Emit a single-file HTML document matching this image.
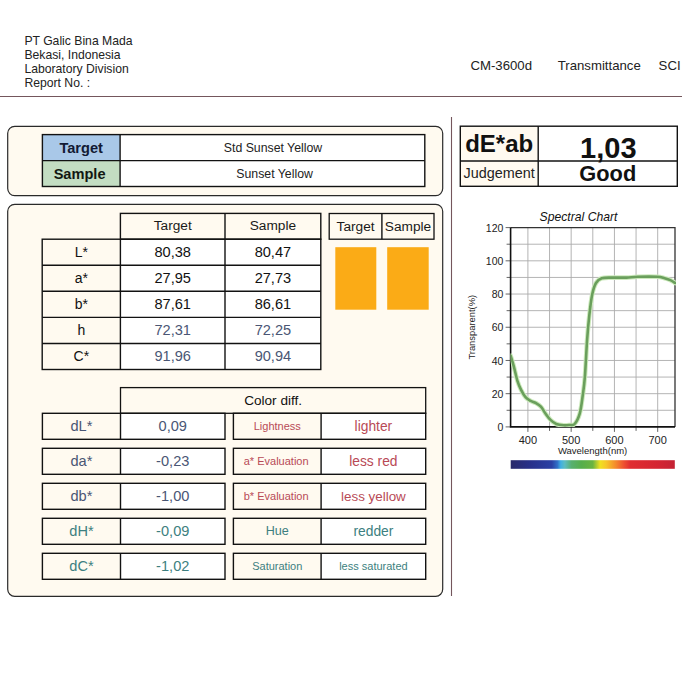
<!DOCTYPE html>
<html><head><meta charset="utf-8"><title>Color Report</title>
<style>
html,body{margin:0;padding:0;background:#fff;}
body{width:682px;height:682px;overflow:hidden;font-family:"Liberation Sans", sans-serif;}
svg{display:block;font-family:"Liberation Sans", sans-serif;}
</style></head>
<body>
<svg width="682" height="682" viewBox="0 0 682 682">
<text x="24.4" y="44.9" font-size="12.2" text-anchor="start" font-weight="normal" font-style="normal" fill="#222" >PT Galic Bina Mada</text>
<text x="24.4" y="58.9" font-size="12.2" text-anchor="start" font-weight="normal" font-style="normal" fill="#222" >Bekasi, Indonesia</text>
<text x="24.4" y="72.9" font-size="12.2" text-anchor="start" font-weight="normal" font-style="normal" fill="#222" >Laboratory Division</text>
<text x="24.4" y="86.9" font-size="12.2" text-anchor="start" font-weight="normal" font-style="normal" fill="#222" >Report No. :</text>
<text x="470.4" y="70.3" font-size="13.2" text-anchor="start" font-weight="normal" font-style="normal" fill="#222" >CM-3600d</text>
<text x="557.7" y="70.3" font-size="13.2" text-anchor="start" font-weight="normal" font-style="normal" fill="#222" >Transmittance</text>
<text x="658.6" y="70.3" font-size="13.2" text-anchor="start" font-weight="normal" font-style="normal" fill="#222" >SCI</text>
<line x1="0" y1="96.5" x2="682" y2="96.5" stroke="#74565c" stroke-width="1.1"/>
<line x1="451.5" y1="117" x2="451.5" y2="596" stroke="#74565c" stroke-width="1.1"/>
<rect x="7.7" y="126.3" width="435.0" height="69.3" fill="#fffaf0" stroke="#2a2a2a" stroke-width="1.2" rx="7"/>
<rect x="42.4" y="134.6" width="77.69999999999999" height="26.0" fill="#a9c8e8" stroke="none" stroke-width="0" rx="0"/>
<rect x="42.4" y="160.6" width="77.69999999999999" height="25.900000000000006" fill="#c3ddc2" stroke="none" stroke-width="0" rx="0"/>
<rect x="120.1" y="134.6" width="304.70000000000005" height="51.900000000000006" fill="#ffffff" stroke="none" stroke-width="0" rx="0"/>
<rect x="42.4" y="134.6" width="382.40000000000003" height="51.900000000000006" fill="none" stroke="#121212" stroke-width="1.4" rx="0"/>
<line x1="42.4" y1="160.6" x2="424.8" y2="160.6" stroke="#121212" stroke-width="1.4"/>
<line x1="120.1" y1="134.6" x2="120.1" y2="186.5" stroke="#121212" stroke-width="1.4"/>
<text x="81.2" y="152.6" font-size="14.6" text-anchor="middle" font-weight="bold" font-style="normal" fill="#121a34" >Target</text>
<text x="79.6" y="178.6" font-size="14.6" text-anchor="middle" font-weight="bold" font-style="normal" fill="#121812" >Sample</text>
<text x="273.0" y="152.0" font-size="12.3" text-anchor="middle" font-weight="normal" font-style="normal" fill="#222" >Std Sunset Yellow</text>
<text x="274.6" y="178.3" font-size="12.3" text-anchor="middle" font-weight="normal" font-style="normal" fill="#222" >Sunset Yellow</text>
<rect x="460.3" y="126.2" width="77.90000000000003" height="60.10000000000001" fill="#fffaf0" stroke="none" stroke-width="0" rx="0"/>
<rect x="538.2" y="126.2" width="139.0999999999999" height="60.10000000000001" fill="#ffffff" stroke="none" stroke-width="0" rx="0"/>
<rect x="460.3" y="126.2" width="216.99999999999994" height="60.10000000000001" fill="none" stroke="#121212" stroke-width="1.4" rx="0"/>
<line x1="460.3" y1="161.0" x2="677.3" y2="161.0" stroke="#121212" stroke-width="1.4"/>
<line x1="538.2" y1="126.2" x2="538.2" y2="186.3" stroke="#121212" stroke-width="1.4"/>
<text x="499.2" y="152.0" font-size="24" text-anchor="middle" font-weight="bold" font-style="normal" fill="#111" >dE*ab</text>
<text x="608.3" y="157.8" font-size="29" text-anchor="middle" font-weight="bold" font-style="normal" fill="#111" >1,03</text>
<text x="499.2" y="178.1" font-size="14.4" text-anchor="middle" font-weight="normal" font-style="normal" fill="#222" >Judgement</text>
<text x="607.8" y="180.6" font-size="21.8" text-anchor="middle" font-weight="bold" font-style="normal" fill="#111" >Good</text>
<rect x="7.7" y="204.3" width="435.0" height="391.99999999999994" fill="#fffaf0" stroke="#2a2a2a" stroke-width="1.2" rx="7"/>
<rect x="120.4" y="213.4" width="200.4" height="25.799999999999983" fill="#fffaf0" stroke="none" stroke-width="0" rx="0"/>
<rect x="42.2" y="239.2" width="78.2" height="130.3" fill="#fffaf0" stroke="none" stroke-width="0" rx="0"/>
<rect x="120.4" y="239.2" width="200.4" height="130.3" fill="#ffffff" stroke="none" stroke-width="0" rx="0"/>
<rect x="120.4" y="213.4" width="200.4" height="25.799999999999983" fill="none" stroke="#121212" stroke-width="1.4" rx="0"/>
<rect x="42.2" y="239.2" width="278.6" height="130.3" fill="none" stroke="#121212" stroke-width="1.4" rx="0"/>
<line x1="42.2" y1="265.3" x2="320.8" y2="265.3" stroke="#121212" stroke-width="1.4"/>
<line x1="42.2" y1="291.3" x2="320.8" y2="291.3" stroke="#121212" stroke-width="1.4"/>
<line x1="42.2" y1="317.4" x2="320.8" y2="317.4" stroke="#121212" stroke-width="1.4"/>
<line x1="42.2" y1="343.5" x2="320.8" y2="343.5" stroke="#121212" stroke-width="1.4"/>
<line x1="120.4" y1="239.2" x2="120.4" y2="369.5" stroke="#121212" stroke-width="1.4"/>
<line x1="225.0" y1="213.4" x2="225.0" y2="369.5" stroke="#121212" stroke-width="1.4"/>
<text x="172.7" y="230.3" font-size="13.7" text-anchor="middle" font-weight="normal" font-style="normal" fill="#1a1a1a" >Target</text>
<text x="272.9" y="230.3" font-size="13.7" text-anchor="middle" font-weight="normal" font-style="normal" fill="#1a1a1a" >Sample</text>
<text x="81.30000000000001" y="256.8" font-size="14" text-anchor="middle" font-weight="normal" font-style="normal" fill="#111" >L*</text>
<text x="172.7" y="256.8" font-size="14.6" text-anchor="middle" font-weight="normal" font-style="normal" fill="#111" >80,38</text>
<text x="272.9" y="256.8" font-size="14.6" text-anchor="middle" font-weight="normal" font-style="normal" fill="#111" >80,47</text>
<text x="81.30000000000001" y="282.90000000000003" font-size="14" text-anchor="middle" font-weight="normal" font-style="normal" fill="#111" >a*</text>
<text x="172.7" y="282.90000000000003" font-size="14.6" text-anchor="middle" font-weight="normal" font-style="normal" fill="#111" >27,95</text>
<text x="272.9" y="282.90000000000003" font-size="14.6" text-anchor="middle" font-weight="normal" font-style="normal" fill="#111" >27,73</text>
<text x="81.30000000000001" y="308.90000000000003" font-size="14" text-anchor="middle" font-weight="normal" font-style="normal" fill="#111" >b*</text>
<text x="172.7" y="308.90000000000003" font-size="14.6" text-anchor="middle" font-weight="normal" font-style="normal" fill="#111" >87,61</text>
<text x="272.9" y="308.90000000000003" font-size="14.6" text-anchor="middle" font-weight="normal" font-style="normal" fill="#111" >86,61</text>
<text x="81.30000000000001" y="335.0" font-size="14" text-anchor="middle" font-weight="normal" font-style="normal" fill="#111" >h</text>
<text x="172.7" y="335.0" font-size="14.6" text-anchor="middle" font-weight="normal" font-style="normal" fill="#4a5674" >72,31</text>
<text x="272.9" y="335.0" font-size="14.6" text-anchor="middle" font-weight="normal" font-style="normal" fill="#4a5674" >72,25</text>
<text x="81.30000000000001" y="361.1" font-size="14" text-anchor="middle" font-weight="normal" font-style="normal" fill="#111" >C*</text>
<text x="172.7" y="361.1" font-size="14.6" text-anchor="middle" font-weight="normal" font-style="normal" fill="#4a5674" >91,96</text>
<text x="272.9" y="361.1" font-size="14.6" text-anchor="middle" font-weight="normal" font-style="normal" fill="#4a5674" >90,94</text>
<rect x="329.2" y="213.5" width="104.80000000000001" height="25.69999999999999" fill="#fffaf0" stroke="#121212" stroke-width="1.3" rx="0"/>
<line x1="381.9" y1="213.5" x2="381.9" y2="239.2" stroke="#121212" stroke-width="1.4"/>
<text x="355.6" y="230.8" font-size="13.7" text-anchor="middle" font-weight="normal" font-style="normal" fill="#1a1a1a" >Target</text>
<text x="408.0" y="230.8" font-size="13.7" text-anchor="middle" font-weight="normal" font-style="normal" fill="#1a1a1a" >Sample</text>
<rect x="335.3" y="247.2" width="41.0" height="62.5" fill="#fbab16" stroke="none" stroke-width="0" rx="0"/>
<rect x="387.2" y="247.2" width="41.5" height="62.5" fill="#fbab16" stroke="none" stroke-width="0" rx="0"/>
<rect x="120.5" y="387.6" width="305.2" height="25.69999999999999" fill="#fffaf0" stroke="#121212" stroke-width="1.3" rx="0"/>
<text x="273.1" y="405.0" font-size="13.6" text-anchor="middle" font-weight="normal" font-style="normal" fill="#111" >Color diff.</text>
<rect x="42.4" y="413.3" width="78.1" height="26.0" fill="#fffaf0" stroke="none" stroke-width="0" rx="0"/>
<rect x="120.5" y="413.3" width="104.5" height="26.0" fill="#ffffff" stroke="none" stroke-width="0" rx="0"/>
<rect x="42.4" y="413.3" width="182.6" height="26.0" fill="none" stroke="#121212" stroke-width="1.4" rx="0"/>
<line x1="120.5" y1="413.3" x2="120.5" y2="439.3" stroke="#121212" stroke-width="1.4"/>
<rect x="233.4" y="413.3" width="87.70000000000002" height="26.0" fill="#fffaf0" stroke="none" stroke-width="0" rx="0"/>
<rect x="321.1" y="413.3" width="104.59999999999997" height="26.0" fill="#ffffff" stroke="none" stroke-width="0" rx="0"/>
<rect x="233.4" y="413.3" width="192.29999999999998" height="26.0" fill="none" stroke="#121212" stroke-width="1.4" rx="0"/>
<line x1="321.1" y1="413.3" x2="321.1" y2="439.3" stroke="#121212" stroke-width="1.4"/>
<text x="81.45" y="431.3" font-size="14.6" text-anchor="middle" font-weight="normal" font-style="normal" fill="#4a5674" >dL*</text>
<text x="172.75" y="431.3" font-size="14.6" text-anchor="middle" font-weight="normal" font-style="normal" fill="#4a5674" >0,09</text>
<text x="277.25" y="430.3" font-size="11" text-anchor="middle" font-weight="normal" font-style="normal" fill="#b84a56" >Lightness</text>
<text x="373.4" y="431.3" font-size="13.8" text-anchor="middle" font-weight="normal" font-style="normal" fill="#b84a56" >lighter</text>
<rect x="42.4" y="448.3" width="78.1" height="26.0" fill="#fffaf0" stroke="none" stroke-width="0" rx="0"/>
<rect x="120.5" y="448.3" width="104.5" height="26.0" fill="#ffffff" stroke="none" stroke-width="0" rx="0"/>
<rect x="42.4" y="448.3" width="182.6" height="26.0" fill="none" stroke="#121212" stroke-width="1.4" rx="0"/>
<line x1="120.5" y1="448.3" x2="120.5" y2="474.3" stroke="#121212" stroke-width="1.4"/>
<rect x="233.4" y="448.3" width="87.70000000000002" height="26.0" fill="#fffaf0" stroke="none" stroke-width="0" rx="0"/>
<rect x="321.1" y="448.3" width="104.59999999999997" height="26.0" fill="#ffffff" stroke="none" stroke-width="0" rx="0"/>
<rect x="233.4" y="448.3" width="192.29999999999998" height="26.0" fill="none" stroke="#121212" stroke-width="1.4" rx="0"/>
<line x1="321.1" y1="448.3" x2="321.1" y2="474.3" stroke="#121212" stroke-width="1.4"/>
<text x="81.45" y="466.3" font-size="14.6" text-anchor="middle" font-weight="normal" font-style="normal" fill="#4a5674" >da*</text>
<text x="172.75" y="466.3" font-size="14.6" text-anchor="middle" font-weight="normal" font-style="normal" fill="#4a5674" >-0,23</text>
<text x="276.15" y="465.3" font-size="11" text-anchor="middle" font-weight="normal" font-style="normal" fill="#b84a56" >a* Evaluation</text>
<text x="373.4" y="466.3" font-size="13.8" text-anchor="middle" font-weight="normal" font-style="normal" fill="#b84a56" >less red</text>
<rect x="42.4" y="483.3" width="78.1" height="26.0" fill="#fffaf0" stroke="none" stroke-width="0" rx="0"/>
<rect x="120.5" y="483.3" width="104.5" height="26.0" fill="#ffffff" stroke="none" stroke-width="0" rx="0"/>
<rect x="42.4" y="483.3" width="182.6" height="26.0" fill="none" stroke="#121212" stroke-width="1.4" rx="0"/>
<line x1="120.5" y1="483.3" x2="120.5" y2="509.3" stroke="#121212" stroke-width="1.4"/>
<rect x="233.4" y="483.3" width="87.70000000000002" height="26.0" fill="#fffaf0" stroke="none" stroke-width="0" rx="0"/>
<rect x="321.1" y="483.3" width="104.59999999999997" height="26.0" fill="#ffffff" stroke="none" stroke-width="0" rx="0"/>
<rect x="233.4" y="483.3" width="192.29999999999998" height="26.0" fill="none" stroke="#121212" stroke-width="1.4" rx="0"/>
<line x1="321.1" y1="483.3" x2="321.1" y2="509.3" stroke="#121212" stroke-width="1.4"/>
<text x="81.45" y="501.3" font-size="14.6" text-anchor="middle" font-weight="normal" font-style="normal" fill="#4a5674" >db*</text>
<text x="172.75" y="501.3" font-size="14.6" text-anchor="middle" font-weight="normal" font-style="normal" fill="#4a5674" >-1,00</text>
<text x="276.15" y="500.3" font-size="11" text-anchor="middle" font-weight="normal" font-style="normal" fill="#b84a56" >b* Evaluation</text>
<text x="373.4" y="501.3" font-size="13.4" text-anchor="middle" font-weight="normal" font-style="normal" fill="#b84a56" >less yellow</text>
<rect x="42.4" y="518.3" width="78.1" height="26.0" fill="#fffaf0" stroke="none" stroke-width="0" rx="0"/>
<rect x="120.5" y="518.3" width="104.5" height="26.0" fill="#ffffff" stroke="none" stroke-width="0" rx="0"/>
<rect x="42.4" y="518.3" width="182.6" height="26.0" fill="none" stroke="#121212" stroke-width="1.4" rx="0"/>
<line x1="120.5" y1="518.3" x2="120.5" y2="544.3" stroke="#121212" stroke-width="1.4"/>
<rect x="233.4" y="518.3" width="87.70000000000002" height="26.0" fill="#fffaf0" stroke="none" stroke-width="0" rx="0"/>
<rect x="321.1" y="518.3" width="104.59999999999997" height="26.0" fill="#ffffff" stroke="none" stroke-width="0" rx="0"/>
<rect x="233.4" y="518.3" width="192.29999999999998" height="26.0" fill="none" stroke="#121212" stroke-width="1.4" rx="0"/>
<line x1="321.1" y1="518.3" x2="321.1" y2="544.3" stroke="#121212" stroke-width="1.4"/>
<text x="81.45" y="536.3" font-size="14.6" text-anchor="middle" font-weight="normal" font-style="normal" fill="#3d7f80" >dH*</text>
<text x="172.75" y="536.3" font-size="14.6" text-anchor="middle" font-weight="normal" font-style="normal" fill="#3d7f80" >-0,09</text>
<text x="277.25" y="535.3" font-size="12.6" text-anchor="middle" font-weight="normal" font-style="normal" fill="#3d7f80" >Hue</text>
<text x="373.4" y="536.3" font-size="13.8" text-anchor="middle" font-weight="normal" font-style="normal" fill="#3d7f80" >redder</text>
<rect x="42.4" y="553.3" width="78.1" height="26.0" fill="#fffaf0" stroke="none" stroke-width="0" rx="0"/>
<rect x="120.5" y="553.3" width="104.5" height="26.0" fill="#ffffff" stroke="none" stroke-width="0" rx="0"/>
<rect x="42.4" y="553.3" width="182.6" height="26.0" fill="none" stroke="#121212" stroke-width="1.4" rx="0"/>
<line x1="120.5" y1="553.3" x2="120.5" y2="579.3" stroke="#121212" stroke-width="1.4"/>
<rect x="233.4" y="553.3" width="87.70000000000002" height="26.0" fill="#fffaf0" stroke="none" stroke-width="0" rx="0"/>
<rect x="321.1" y="553.3" width="104.59999999999997" height="26.0" fill="#ffffff" stroke="none" stroke-width="0" rx="0"/>
<rect x="233.4" y="553.3" width="192.29999999999998" height="26.0" fill="none" stroke="#121212" stroke-width="1.4" rx="0"/>
<line x1="321.1" y1="553.3" x2="321.1" y2="579.3" stroke="#121212" stroke-width="1.4"/>
<text x="81.45" y="571.3" font-size="14.6" text-anchor="middle" font-weight="normal" font-style="normal" fill="#3d7f80" >dC*</text>
<text x="172.75" y="571.3" font-size="14.6" text-anchor="middle" font-weight="normal" font-style="normal" fill="#3d7f80" >-1,02</text>
<text x="277.25" y="570.3" font-size="11" text-anchor="middle" font-weight="normal" font-style="normal" fill="#3d7f80" >Saturation</text>
<text x="373.4" y="570.3" font-size="11" text-anchor="middle" font-weight="normal" font-style="normal" fill="#3d7f80" >less saturated</text>
<text x="578.5" y="221.0" font-size="12.2" text-anchor="middle" font-weight="normal" font-style="italic" fill="#111" >Spectral Chart</text>
<line x1="510.6" y1="410.29166666666663" x2="675.0" y2="410.29166666666663" stroke="#acacac" stroke-width="0.9"/>
<line x1="510.6" y1="393.68333333333334" x2="675.0" y2="393.68333333333334" stroke="#acacac" stroke-width="0.9"/>
<line x1="510.6" y1="377.075" x2="675.0" y2="377.075" stroke="#acacac" stroke-width="0.9"/>
<line x1="510.6" y1="360.46666666666664" x2="675.0" y2="360.46666666666664" stroke="#acacac" stroke-width="0.9"/>
<line x1="510.6" y1="343.8583333333333" x2="675.0" y2="343.8583333333333" stroke="#acacac" stroke-width="0.9"/>
<line x1="510.6" y1="327.25" x2="675.0" y2="327.25" stroke="#acacac" stroke-width="0.9"/>
<line x1="510.6" y1="310.64166666666665" x2="675.0" y2="310.64166666666665" stroke="#acacac" stroke-width="0.9"/>
<line x1="510.6" y1="294.0333333333333" x2="675.0" y2="294.0333333333333" stroke="#acacac" stroke-width="0.9"/>
<line x1="510.6" y1="277.42499999999995" x2="675.0" y2="277.42499999999995" stroke="#acacac" stroke-width="0.9"/>
<line x1="510.6" y1="260.8166666666666" x2="675.0" y2="260.8166666666666" stroke="#acacac" stroke-width="0.9"/>
<line x1="510.6" y1="244.20833333333334" x2="675.0" y2="244.20833333333334" stroke="#acacac" stroke-width="0.9"/>
<line x1="527.9052631578948" y1="227.6" x2="527.9052631578948" y2="426.9" stroke="#acacac" stroke-width="0.9"/>
<line x1="549.5368421052632" y1="227.6" x2="549.5368421052632" y2="426.9" stroke="#acacac" stroke-width="0.9"/>
<line x1="571.1684210526316" y1="227.6" x2="571.1684210526316" y2="426.9" stroke="#acacac" stroke-width="0.9"/>
<line x1="592.8" y1="227.6" x2="592.8" y2="426.9" stroke="#acacac" stroke-width="0.9"/>
<line x1="614.4315789473684" y1="227.6" x2="614.4315789473684" y2="426.9" stroke="#acacac" stroke-width="0.9"/>
<line x1="636.0631578947368" y1="227.6" x2="636.0631578947368" y2="426.9" stroke="#acacac" stroke-width="0.9"/>
<line x1="657.6947368421053" y1="227.6" x2="657.6947368421053" y2="426.9" stroke="#acacac" stroke-width="0.9"/>
<line x1="505.6" y1="426.9" x2="510.6" y2="426.9" stroke="#555" stroke-width="0.9"/>
<line x1="506.6" y1="410.29166666666663" x2="510.6" y2="410.29166666666663" stroke="#555" stroke-width="0.9"/>
<line x1="505.6" y1="393.68333333333334" x2="510.6" y2="393.68333333333334" stroke="#555" stroke-width="0.9"/>
<line x1="506.6" y1="377.075" x2="510.6" y2="377.075" stroke="#555" stroke-width="0.9"/>
<line x1="505.6" y1="360.46666666666664" x2="510.6" y2="360.46666666666664" stroke="#555" stroke-width="0.9"/>
<line x1="506.6" y1="343.8583333333333" x2="510.6" y2="343.8583333333333" stroke="#555" stroke-width="0.9"/>
<line x1="505.6" y1="327.25" x2="510.6" y2="327.25" stroke="#555" stroke-width="0.9"/>
<line x1="506.6" y1="310.64166666666665" x2="510.6" y2="310.64166666666665" stroke="#555" stroke-width="0.9"/>
<line x1="505.6" y1="294.0333333333333" x2="510.6" y2="294.0333333333333" stroke="#555" stroke-width="0.9"/>
<line x1="506.6" y1="277.42499999999995" x2="510.6" y2="277.42499999999995" stroke="#555" stroke-width="0.9"/>
<line x1="505.6" y1="260.8166666666666" x2="510.6" y2="260.8166666666666" stroke="#555" stroke-width="0.9"/>
<line x1="506.6" y1="244.20833333333334" x2="510.6" y2="244.20833333333334" stroke="#555" stroke-width="0.9"/>
<line x1="505.6" y1="227.6" x2="510.6" y2="227.6" stroke="#555" stroke-width="0.9"/>
<line x1="527.9052631578948" y1="426.9" x2="527.9052631578948" y2="431.9" stroke="#555" stroke-width="0.9"/>
<line x1="549.5368421052632" y1="426.9" x2="549.5368421052632" y2="430.9" stroke="#555" stroke-width="0.9"/>
<line x1="571.1684210526316" y1="426.9" x2="571.1684210526316" y2="431.9" stroke="#555" stroke-width="0.9"/>
<line x1="592.8" y1="426.9" x2="592.8" y2="430.9" stroke="#555" stroke-width="0.9"/>
<line x1="614.4315789473684" y1="426.9" x2="614.4315789473684" y2="431.9" stroke="#555" stroke-width="0.9"/>
<line x1="636.0631578947368" y1="426.9" x2="636.0631578947368" y2="430.9" stroke="#555" stroke-width="0.9"/>
<line x1="657.6947368421053" y1="426.9" x2="657.6947368421053" y2="431.9" stroke="#555" stroke-width="0.9"/>
<path d="M510.6,227.6 L675.0,227.6 L675.0,426.9" fill="none" stroke="#333" stroke-width="1.3"/>
<path d="M510.6,227.6 L510.6,426.9 L675.0,426.9" fill="none" stroke="#111" stroke-width="1.6"/>
<text x="503.4" y="431.09999999999997" font-size="10.5" text-anchor="end" font-weight="normal" font-style="normal" fill="#222" >0</text>
<text x="503.4" y="397.8833333333333" font-size="10.5" text-anchor="end" font-weight="normal" font-style="normal" fill="#222" >20</text>
<text x="503.4" y="364.66666666666663" font-size="10.5" text-anchor="end" font-weight="normal" font-style="normal" fill="#222" >40</text>
<text x="503.4" y="331.45" font-size="10.5" text-anchor="end" font-weight="normal" font-style="normal" fill="#222" >60</text>
<text x="503.4" y="298.2333333333333" font-size="10.5" text-anchor="end" font-weight="normal" font-style="normal" fill="#222" >80</text>
<text x="503.4" y="265.0166666666666" font-size="10.5" text-anchor="end" font-weight="normal" font-style="normal" fill="#222" >100</text>
<text x="503.4" y="231.79999999999998" font-size="10.5" text-anchor="end" font-weight="normal" font-style="normal" fill="#222" >120</text>
<text x="527.9052631578948" y="443.8" font-size="11" text-anchor="middle" font-weight="normal" font-style="normal" fill="#222" >400</text>
<text x="571.1684210526316" y="443.8" font-size="11" text-anchor="middle" font-weight="normal" font-style="normal" fill="#222" >500</text>
<text x="614.4315789473684" y="443.8" font-size="11" text-anchor="middle" font-weight="normal" font-style="normal" fill="#222" >600</text>
<text x="657.6947368421053" y="443.8" font-size="11" text-anchor="middle" font-weight="normal" font-style="normal" fill="#222" >700</text>
<text x="592.6" y="453.7" font-size="9.5" text-anchor="middle" font-weight="normal" font-style="normal" fill="#222" >Wavelength(nm)</text>
<text x="0" y="0" font-size="9.4" text-anchor="middle" fill="#222" transform="translate(475.4,327.2) rotate(-90)">Transparent(%)</text>
<clipPath id="pc"><rect x="510.6" y="225.6" width="165.39999999999998" height="201.29999999999998"/></clipPath>
<path d="M510.6,355.6 C511.13,357.40 512.65,362.15 513.8,366.4 C514.95,370.65 516.28,377.18 517.5,381.1 C518.72,385.02 519.77,387.22 521.1,389.9 C522.43,392.58 523.90,395.37 525.5,397.2 C527.10,399.03 528.98,399.93 530.7,400.9 C532.42,401.87 534.10,402.03 535.8,403 C537.50,403.97 539.32,404.98 540.9,406.7 C542.48,408.42 543.70,411.10 545.3,413.3 C546.90,415.50 548.67,418.12 550.5,419.9 C552.33,421.68 554.10,423.10 556.3,424 C558.50,424.90 561.50,425.13 563.7,425.3 C565.90,425.47 567.68,425.22 569.5,425 C571.32,424.78 572.88,425.95 574.6,424 C576.32,422.05 578.45,418.02 579.8,413.3 C581.15,408.58 581.85,401.80 582.7,395.7 C583.55,389.60 584.17,385.98 584.9,376.7 C585.63,367.42 586.37,350.22 587.1,340 C587.83,329.78 588.45,323.00 589.3,315.4 C590.15,307.80 591.08,299.80 592.2,294.4 C593.32,289.00 594.42,285.70 596,283 C597.58,280.30 598.85,279.10 601.7,278.2 C604.55,277.30 608.97,277.70 613.1,277.6 C617.23,277.50 622.37,277.73 626.5,277.6 C630.63,277.47 632.82,276.93 637.9,276.8 C642.98,276.67 652.55,276.57 657,276.8 C661.45,277.03 662.37,277.65 664.6,278.2 C666.83,278.75 668.65,279.30 670.4,280.1 C672.15,280.90 674.32,282.52 675.1,283" fill="none" stroke="#cdeabd" stroke-width="4.6" stroke-linecap="round" stroke-linejoin="round" clip-path="url(#pc)"/>
<path d="M510.6,355.6 C511.13,357.40 512.65,362.15 513.8,366.4 C514.95,370.65 516.28,377.18 517.5,381.1 C518.72,385.02 519.77,387.22 521.1,389.9 C522.43,392.58 523.90,395.37 525.5,397.2 C527.10,399.03 528.98,399.93 530.7,400.9 C532.42,401.87 534.10,402.03 535.8,403 C537.50,403.97 539.32,404.98 540.9,406.7 C542.48,408.42 543.70,411.10 545.3,413.3 C546.90,415.50 548.67,418.12 550.5,419.9 C552.33,421.68 554.10,423.10 556.3,424 C558.50,424.90 561.50,425.13 563.7,425.3 C565.90,425.47 567.68,425.22 569.5,425 C571.32,424.78 572.88,425.95 574.6,424 C576.32,422.05 578.45,418.02 579.8,413.3 C581.15,408.58 581.85,401.80 582.7,395.7 C583.55,389.60 584.17,385.98 584.9,376.7 C585.63,367.42 586.37,350.22 587.1,340 C587.83,329.78 588.45,323.00 589.3,315.4 C590.15,307.80 591.08,299.80 592.2,294.4 C593.32,289.00 594.42,285.70 596,283 C597.58,280.30 598.85,279.10 601.7,278.2 C604.55,277.30 608.97,277.70 613.1,277.6 C617.23,277.50 622.37,277.73 626.5,277.6 C630.63,277.47 632.82,276.93 637.9,276.8 C642.98,276.67 652.55,276.57 657,276.8 C661.45,277.03 662.37,277.65 664.6,278.2 C666.83,278.75 668.65,279.30 670.4,280.1 C672.15,280.90 674.32,282.52 675.1,283" fill="none" stroke="#6a9f5c" stroke-width="2.6" stroke-linecap="round" stroke-linejoin="round" clip-path="url(#pc)"/>
<linearGradient id="spec" x1="0" x2="1" y1="0" y2="0"><stop offset="0" stop-color="#2a2a6a"/><stop offset="0.12" stop-color="#28308a"/><stop offset="0.25" stop-color="#2a40a4"/><stop offset="0.285" stop-color="#3070c8"/><stop offset="0.305" stop-color="#40b0e2"/><stop offset="0.33" stop-color="#5cbcc0"/><stop offset="0.37" stop-color="#58b070"/><stop offset="0.43" stop-color="#56ae4c"/><stop offset="0.5" stop-color="#6ab440"/><stop offset="0.545" stop-color="#f0e020"/><stop offset="0.58" stop-color="#f6c828"/><stop offset="0.64" stop-color="#f48a2c"/><stop offset="0.69" stop-color="#ee5030"/><stop offset="0.73" stop-color="#e02c30"/><stop offset="0.9" stop-color="#d42432"/><stop offset="1" stop-color="#c42234"/></linearGradient>
<rect x="510.7" y="460.2" width="164.09999999999997" height="8.6" fill="url(#spec)"/>
</svg>
</body></html>
